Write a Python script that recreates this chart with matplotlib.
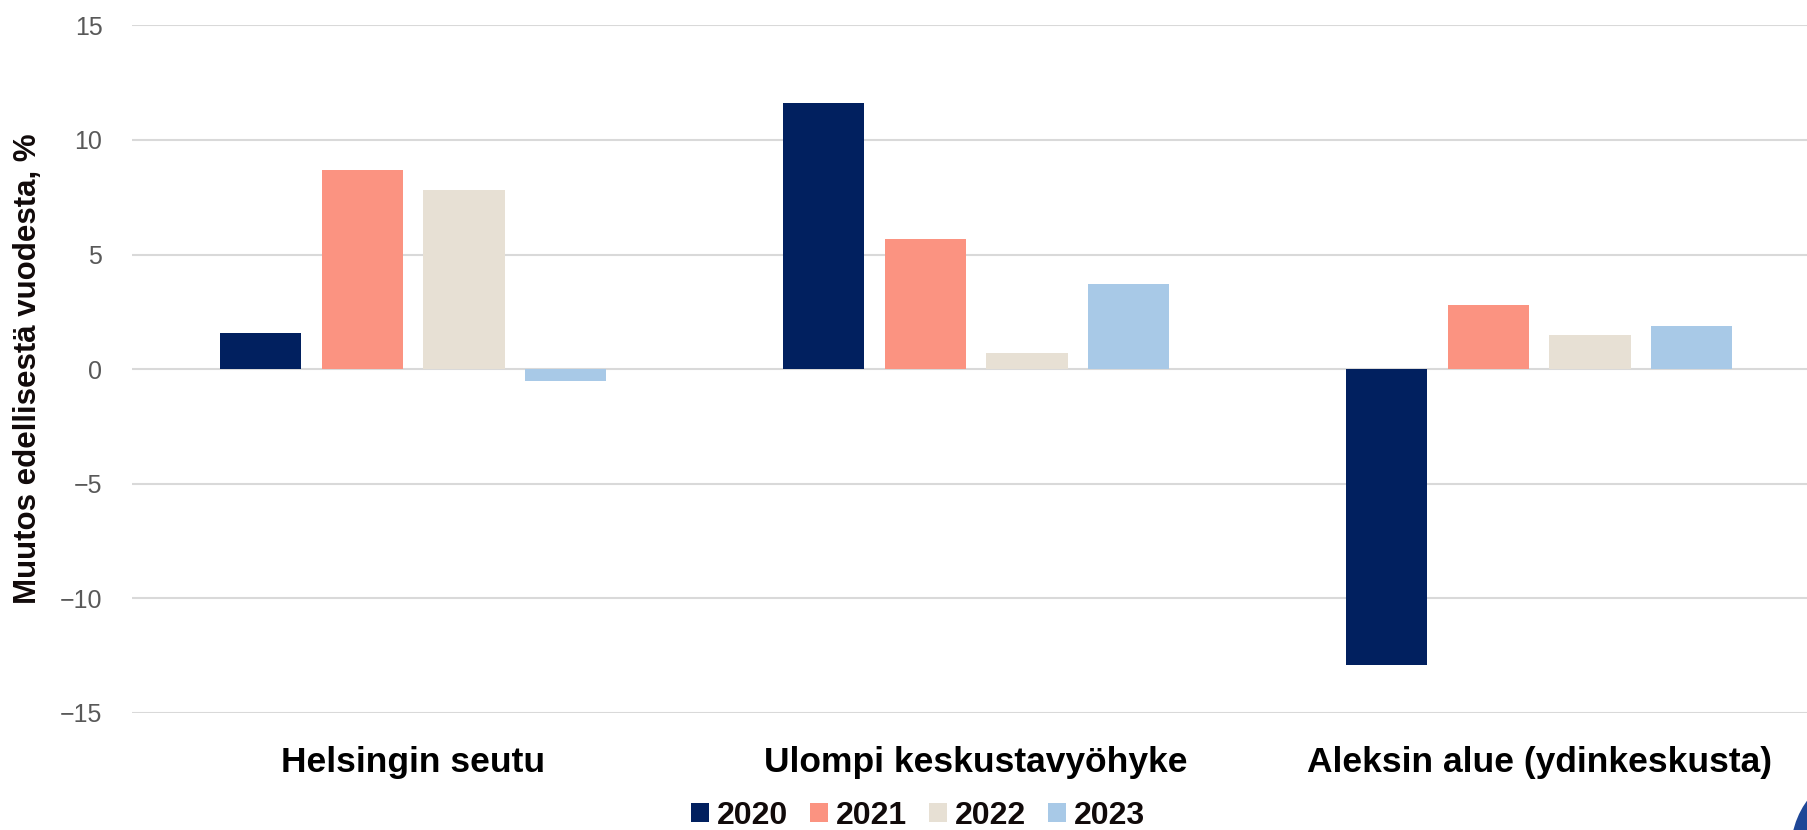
import numpy as np
import matplotlib
matplotlib.use("Agg")
import matplotlib.pyplot as plt
from matplotlib.patches import Ellipse, Patch

categories = ["Helsingin seutu", "Ulompi keskustavyöhyke", "Aleksin alue (ydinkeskusta)"]
years = ["2020", "2021", "2022", "2023"]
v2020 = [1.6, 11.6, -12.9]
v2021 = [8.7, 5.7, 2.8]
v2022 = [7.8, 0.7, 1.5]
v2023 = [-0.5, 3.7, 1.9]
colors = ["#01205F", "#FB9381", "#E7E0D4", "#A8C9E7"]

plt.rcParams['font.family'] = ['Liberation Sans', 'DejaVu Sans']

fig = plt.figure(figsize=(18.07, 8.30), dpi=100)
ax = fig.add_axes([0.0728, 0.141, 0.9347, 0.8284])

x = np.arange(len(categories))
w = 0.144
step = 0.181
for i, vals in enumerate([v2020, v2021, v2022, v2023]):
    ax.bar(x + (i - 1.5) * step, vals, width=w, color=colors[i], zorder=3)

ax.set_ylim(-15, 15)
ax.set_xlim(-0.5, 2.5)
ax.set_yticks([-15, -10, -5, 0, 5, 10, 15])
ax.set_yticklabels(["\u221215", "\u221210", "\u22125", "0", "5", "10", "15"])
ax.yaxis.grid(True, color="#D9D9D9", linewidth=1.5, zorder=0)
ax.set_axisbelow(True)
for s in ax.spines.values():
    s.set_visible(False)
ax.tick_params(axis='y', length=0, pad=21, labelsize=18, labelcolor="#595959")
ax.tick_params(axis='x', length=0, pad=24)
ax.set_xticks(x)
ax.set_xticklabels(categories, fontsize=25.5, fontweight='bold', color="#000000")

fig.text(0.0155, 0.556, "Muutos edellisestä vuodesta, %", rotation=90, ha='center', va='center',
         fontsize=22.5, fontweight='bold', color="#110A0A")

handles = [Patch(facecolor=c) for c in colors]
fig.legend(handles, years, loc='center', bbox_to_anchor=(0.508, 0.017), ncol=4, frameon=False,
           prop={'size': 23, 'weight': 'bold'}, handlelength=0.55, handleheight=0.55,
           handletextpad=0.25, columnspacing=0.7, labelcolor="#110A0A")

# partial logo circle in bottom-right corner
fig.patches.append(Ellipse((1875 / 1807, (830 - 850) / 830), 2 * 84 / 1807, 2 * 84 / 830,
                           transform=fig.transFigure, facecolor="#1F4797", edgecolor='none'))

fig.savefig("out.png", dpi=100)
